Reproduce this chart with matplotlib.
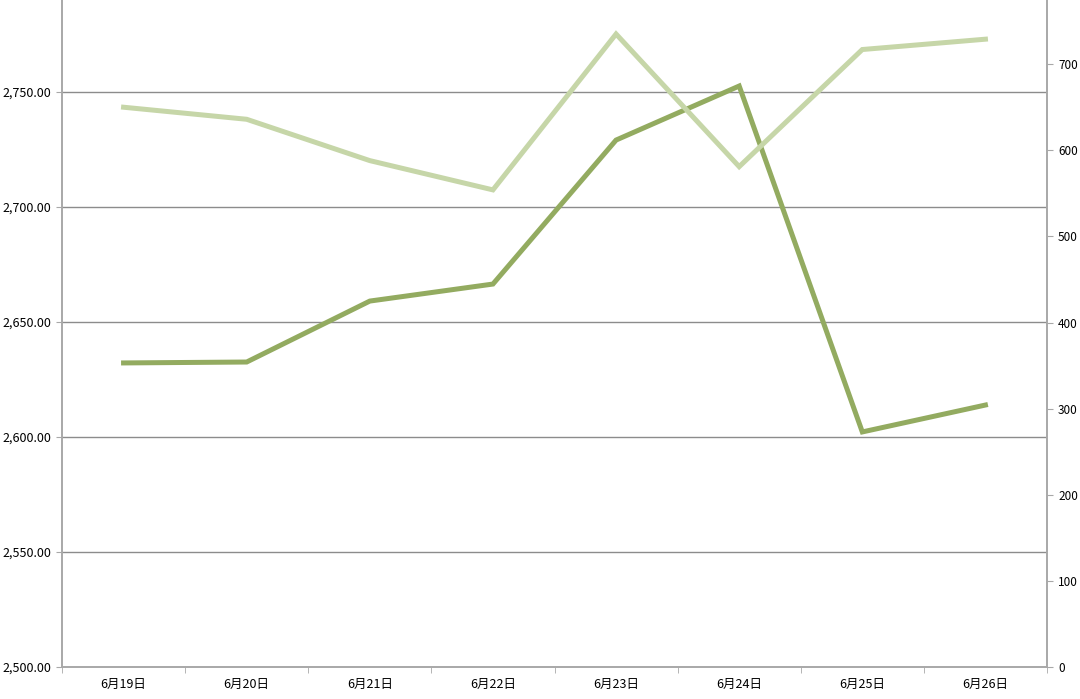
import matplotlib
matplotlib.use("Agg")
import matplotlib.pyplot as plt
import numpy as np

plt.rcParams['font.family'] = ['Noto Sans CJK JP', 'DejaVu Sans']

dates = ['6月19日', '6月20日', '6月21日', '6月22日', '6月23日', '6月24日', '6月25日', '6月26日']
left_vals = [2632.2, 2632.6, 2659.1, 2666.5, 2729.1, 2752.6, 2602.2, 2613.9]
right_vals = [650, 636, 588, 554, 735, 581, 717, 729]

left_ticks = [2500, 2550, 2600, 2650, 2700, 2750]
right_ticks = [0, 100, 200, 300, 400, 500, 600, 700]

dark = '#93ab60'
light = '#c6d6a8'
axis_grey = '#a8a8a8'

fig = plt.figure(figsize=(10.8, 6.99), dpi=100)
ax = fig.add_axes([62 / 1080, 32 / 699, (1047 - 62) / 1080, 1 - 32 / 699])
ax2 = ax.twinx()

x = np.arange(len(dates))
ax.plot(x, left_vals, color=dark, lw=3.6, solid_joinstyle='miter', zorder=3)
ax2.plot(x, right_vals, color=light, lw=3.6, solid_joinstyle='miter', zorder=3)

ax.set_xlim(-0.5, len(dates) - 0.5)
ax.set_ylim(2500, 2790)
ax2.set_ylim(0, 774.5)

ax.set_yticks(left_ticks)
ax.set_yticklabels([f'{v:,.2f}' for v in left_ticks])
ax2.set_yticks(right_ticks)
ax2.set_yticklabels([str(v) for v in right_ticks])

ax.set_xticks(x)
ax.set_xticklabels(dates)
ax.set_xticks(np.arange(len(dates) + 1) - 0.5, minor=True)
ax.tick_params(axis='x', which='major', length=0, pad=8, labelsize=9)
ax.tick_params(axis='x', which='minor', length=4, color=axis_grey)
ax.tick_params(axis='y', length=4, color=axis_grey, labelsize=9, pad=4)
ax2.tick_params(axis='y', length=4, color=axis_grey, labelsize=8.5, pad=4)

for v in left_ticks[1:]:
    ax.axhline(v, color='#8c8c8c', lw=1.0, zorder=1)

for a in (ax, ax2):
    a.spines['top'].set_visible(False)
    for s in ('left', 'right', 'bottom'):
        a.spines[s].set_color(axis_grey)
        a.spines[s].set_linewidth(1.2)

ax2.set_zorder(ax.get_zorder() + 1)
ax2.patch.set_visible(False)

fig.savefig('out.png', dpi=100)
